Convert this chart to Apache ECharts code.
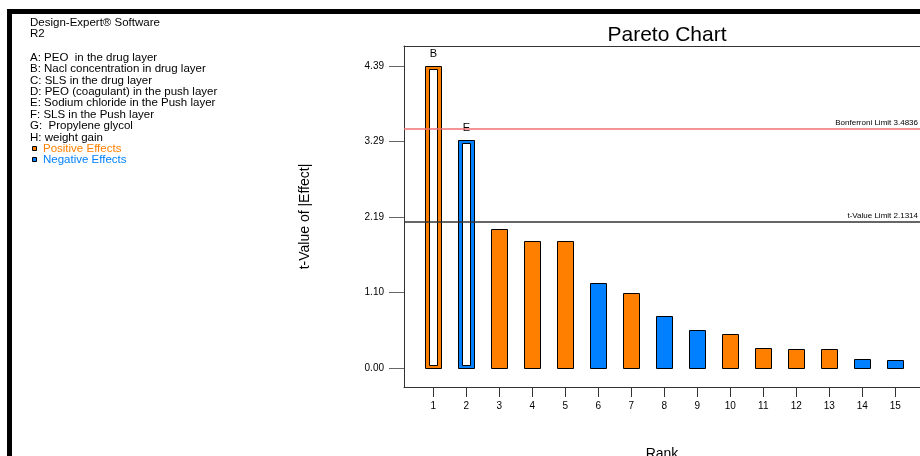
<!DOCTYPE html>
<html>
<head>
<meta charset="utf-8">
<script src="https://cdn.jsdelivr.net/npm/echarts@6/dist/echarts.min.js"></script>
<style>
  html, body { margin: 0; padding: 0; background: #fff; }
  #chart { width: 920px; height: 456px; }
</style>
</head>
<body>
<div id="chart"></div>
<script>
// Effect ranks and their |t| values
const ranks = [1, 2, 3, 4, 5, 6, 7, 8, 9, 10, 11, 12, 13, 14, 15];
const tValues = [4.39, 3.31, 2.02, 1.84, 1.84, 1.24, 1.09, 0.75, 0.55, 0.495, 0.29, 0.27, 0.27, 0.13, 0.12];
// '+' positive effect, '-' negative effect
const effectSigns = ['+', '-', '+', '+', '+', '-', '+', '-', '-', '+', '+', '+', '+', '-', '-'];
const effectLetters = ['B', 'E', '', '', '', '', '', '', '', '', '', '', '', '', ''];
const yTicks = [0, 1.0968, 2.1935, 3.2903, 4.3870];
const xTicks = ranks;
const bonferroniLimit = 3.4836;
const tValueLimit = 2.1314;
const headerLines = ['Design-Expert® Software', 'R2'];
const factorLines = [
  'A: PEO  in the drug layer',
  'B: Nacl concentration in drug layer',
  'C: SLS in the drug layer',
  'D: PEO (coagulant) in the push layer',
  'E: Sodium chloride in the Push layer',
  'F: SLS in the Push layer',
  'G:  Propylene glycol',
  'H: weight gain'
];
const effectLegend = [
  { name: 'Positive Effects', sign: '+' },
  { name: 'Negative Effects', sign: '-' }
];

const ORANGE = '#FF8000';
const BLUE = '#0080FF';
const FONT = '"Liberation Sans", Arial, sans-serif';

const chart = echarts.init(document.getElementById('chart'), null, { renderer: 'canvas' });

function renderBar(params, api) {
  const i = api.value(2);
  const top = api.coord([api.value(0), api.value(1)]);
  const base = api.coord([api.value(0), 0]);
  const w = 16;
  const x = Math.round(top[0] - w / 2) + 0.5;
  const y = Math.round(top[1]) + 0.5;
  const h = Math.round(base[1]) - Math.round(top[1]);
  const fill = effectSigns[i] === '+' ? ORANGE : BLUE;
  const children = [{
    type: 'rect',
    shape: { x: x, y: y, width: w, height: h },
    style: { fill: fill, stroke: '#000', lineWidth: 1 }
  }];
  if (api.value(1) > tValueLimit) {
    children.push({
      type: 'rect',
      shape: { x: x + 4, y: y + 3, width: w - 8, height: h - 6 },
      style: { fill: '#fff', stroke: '#000', lineWidth: 1 }
    });
  }
  if (effectLetters[i]) {
    children.push({
      type: 'text',
      style: {
        text: effectLetters[i], x: top[0], y: top[1] - 12,
        align: 'center', verticalAlign: 'middle',
        font: '11px ' + FONT, fill: '#000'
      }
    });
  }
  return { type: 'group', children: children };
}

// Left-hand text block and page frame
const graphics = [
  { type: 'rect', shape: { x: 7, y: 9, width: 913, height: 5 }, style: { fill: '#000' } },
  { type: 'rect', shape: { x: 7, y: 9, width: 5, height: 447 }, style: { fill: '#000' } }
];
const lineStep = 11.4;
const TEXT_FONT = '11.5px ' + FONT;
headerLines.forEach((t, k) => {
  graphics.push({ type: 'text', style: { text: t, x: 30, y: 22.7 + k * lineStep, verticalAlign: 'middle', font: TEXT_FONT, fill: '#000' } });
});
factorLines.forEach((t, k) => {
  graphics.push({ type: 'text', style: { text: t, x: 30, y: 57.7 + k * lineStep, verticalAlign: 'middle', font: TEXT_FONT, fill: '#000' } });
});
effectLegend.forEach((e, k) => {
  const cy = 57.7 + (factorLines.length + k) * lineStep;
  const col = e.sign === '+' ? ORANGE : BLUE;
  graphics.push({ type: 'rect', shape: { x: 32.5, y: Math.round(cy) - 2.5, width: 4, height: 4 }, style: { fill: col, stroke: '#000', lineWidth: 1 } });
  graphics.push({ type: 'text', style: { text: e.name, x: 43, y: cy, verticalAlign: 'middle', font: TEXT_FONT, fill: col } });
});

const xMin = 0.112, xMax = 15.748;

chart.setOption({
  animation: false,
  backgroundColor: '#fff',
  title: {
    text: 'Pareto Chart',
    left: 662,
    textAlign: 'center',
    top: 20,
    textStyle: { fontFamily: FONT, fontSize: 21, fontWeight: 'normal', color: '#000' }
  },
  graphic: graphics,
  grid: { left: 404, top: 46, right: 0, bottom: 69, containLabel: false, outerBoundsMode: 'none' },
  xAxis: [{
    type: 'value',
    position: 'bottom',
    min: xMin, max: xMax,
    name: 'Rank',
    nameLocation: 'middle',
    nameGap: 60,
    nameTextStyle: { fontFamily: FONT, fontSize: 14, color: '#000' },
    axisLine: { show: true, onZero: false, lineStyle: { color: '#333', width: 1 } },
    axisTick: { show: true, customValues: xTicks, length: 10, lineStyle: { color: '#333' } },
    axisLabel: { customValues: xTicks, fontFamily: FONT, fontSize: 10, color: '#000', margin: 14 },
    splitLine: { show: false }
  }, {
    type: 'value',
    position: 'top',
    min: xMin, max: xMax,
    axisLine: { show: true, onZero: false, lineStyle: { color: '#333', width: 1 } },
    axisTick: { show: false },
    axisLabel: { show: false },
    splitLine: { show: false }
  }],
  yAxis: {
    type: 'value',
    min: -0.28, max: 4.68,
    name: 't-Value of |Effect|',
    nameLocation: 'middle',
    nameGap: 92,
    nameRotate: 90,
    nameTextStyle: { fontFamily: FONT, fontSize: 14, color: '#000' },
    axisLine: { show: true, onZero: false, lineStyle: { color: '#333', width: 1 } },
    axisTick: { show: true, customValues: yTicks, length: 15, lineStyle: { color: '#666' } },
    axisLabel: {
      customValues: yTicks,
      formatter: v => v.toFixed(2),
      fontFamily: FONT, fontSize: 10, color: '#000', margin: 20
    },
    splitLine: { show: false }
  },
  series: [{
    type: 'custom',
    renderItem: renderBar,
    encode: { x: 0, y: 1 },
    data: ranks.map((r, i) => [r, tValues[i], i]),
    markLine: {
      silent: true,
      symbol: 'none',
      data: [
        {
          yAxis: bonferroniLimit,
          lineStyle: { color: '#F07070', width: 1.5, type: 'solid' },
          label: { position: 'insideEndTop', distance: 2, formatter: 'Bonferroni Limit ' + bonferroniLimit, fontFamily: FONT, fontSize: 8, color: '#000' }
        },
        {
          yAxis: tValueLimit,
          lineStyle: { color: '#333', width: 1.5, type: 'solid' },
          label: { position: 'insideEndTop', distance: 2, formatter: 't-Value Limit ' + tValueLimit, fontFamily: FONT, fontSize: 8, color: '#000' }
        }
      ]
    }
  }]
});
</script>
</body>
</html>
